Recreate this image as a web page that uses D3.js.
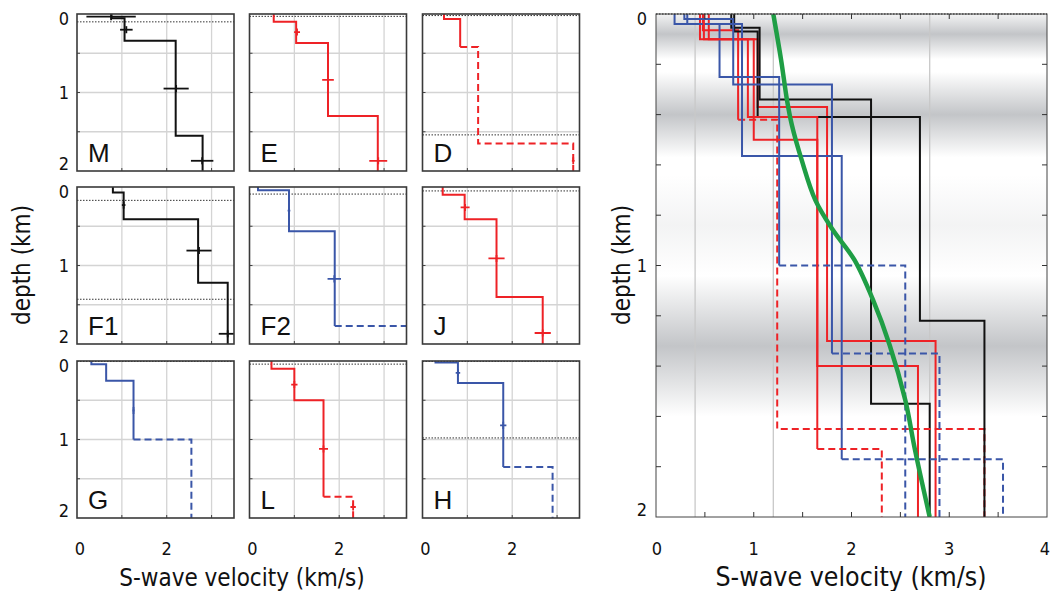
<!DOCTYPE html>
<html>
<head>
<meta charset="utf-8">
<script src="https://cdn.jsdelivr.net/npm/d3@7"></script>
<style>
  body { margin: 0; background: #fff; }
  svg text { font-family: "Liberation Sans Narrow", "DejaVu Sans Condensed", "Liberation Sans", sans-serif; fill: #111; }
  .letter { font-family: "Liberation Sans", Arial, sans-serif; }
</style>
</head>
<body>
<div id="chart"></div>
<script>
// panel names, in reading order
const panelNames = ["M", "E", "D", "F1", "F2", "J", "G", "L", "H"];
const panelColors = ["#111", "#ee2226", "#ee2226", "#111", "#3a56a8", "#ee2226", "#3a56a8", "#ee2226", "#3a56a8"];

// layer velocities (km/s) and layer tops (km)
const velM = [0.77, 1.06, 2.20, 2.80],  topM = [0, 0.055, 0.34, 1.55];
const velE = [0.54, 1.04, 1.75, 2.86],  topE = [0, 0.10, 0.37, 1.30];
const velD = [0.48, 0.84, 1.24, 3.36],  topD = [0, 0.065, 0.42, 1.65];
const velF1 = [0.80, 1.04, 2.70, 3.36], topF1 = [0, 0.07, 0.41, 1.22];
const velF2 = [0.19, 0.88, 1.90, 3.55], topF2 = [0, 0.04, 0.565, 1.77];
const velJ = [0.45, 0.94, 1.65, 2.68],  topJ = [0, 0.10, 0.41, 1.40];
const velG = [0.32, 0.65, 1.26, 2.55],  topG = [0, 0.04, 0.25, 1.00];
const velL = [0.49, 1.00, 1.65, 2.31],  topL = [0, 0.10, 0.50, 1.73];
const velH = [0.29, 0.79, 1.80, 2.90],  topH = [0, 0.02, 0.28, 1.35];
// how many layers are drawn solid (rest dashed)
const solidCount = [4, 4, 2, 4, 3, 4, 3, 3, 3];

// error crosses: [depth, velocity, half width]
const errM = [[0.034, 0.76, 0.55], [0.20, 1.10, 0.14], [0.95, 2.21, 0.28], [1.87, 2.79, 0.25]];
const errE = [[0.23, 1.06, 0.066], [0.84, 1.75, 0.13], [1.87, 2.87, 0.20]];
const errD = [[1.87, 3.36, 0.03]];
const errF1 = [[0.23, 1.04, 0.04], [0.81, 2.72, 0.28], [1.87, 3.36, 0.20]];
const errF2 = [[0.30, 0.88, 0.03], [1.17, 1.89, 0.15]];
const errJ = [[0.26, 0.95, 0.10], [0.91, 1.65, 0.18], [1.86, 2.68, 0.18]];
const errG = [[0.63, 1.26, 0.02]];
const errL = [[0.30, 1.00, 0.07], [1.12, 1.65, 0.10], [1.86, 2.31, 0.06]];
const errH = [[0.15, 0.79, 0.05], [0.82, 1.80, 0.07]];

// dotted reference depths (km)
const dotM = [0.10], dotE = [0.03], dotD = [0.02, 1.54];
const dotF1 = [0.17, 1.43], dotF2 = [0.09], dotJ = [0.05];
const dotG = [0.005], dotL = [0.04], dotH = [0.005, 0.98];

// smooth reference model (green): [velocity, depth]
const greenCurve = [[1.20, 0], [1.28, 0.183], [1.34, 0.342], [1.39, 0.441], [1.49, 0.58],
  [1.63, 0.74], [1.81, 0.859], [2.03, 0.978], [2.22, 1.137], [2.39, 1.316], [2.55, 1.535],
  [2.65, 1.734], [2.80, 2.0]];
// grey reference velocities in the big panel
const refVel = [0.4, 1.2, 2.8];
// shaded depth bands: [centre, half width, strength]
const bands = [[0.08, 0.10, 1], [0.40, 0.17, 1], [0.84, 0.20, 0.2], [1.32, 0.28, 1]];

const smallTicksX = [0, 2];
const bigTicksX = [0, 1, 2, 3, 4];
const depthTicks = [0, 1, 2];

const profiles = [
  {v: velM, t: topM, e: errM, d: dotM}, {v: velE, t: topE, e: errE, d: dotE}, {v: velD, t: topD, e: errD, d: dotD},
  {v: velF1, t: topF1, e: errF1, d: dotF1}, {v: velF2, t: topF2, e: errF2, d: dotF2}, {v: velJ, t: topJ, e: errJ, d: dotJ},
  {v: velG, t: topG, e: errG, d: dotG}, {v: velL, t: topL, e: errL, d: dotL}, {v: velH, t: topH, e: errH, d: dotH}
];

const W = 1053, H = 591;
const colX = [77, 249.5, 422.5], rowY = [14, 187, 361], pw = 157, ph = 157;

const svg = d3.select("#chart").append("svg").attr("width", W).attr("height", H);
const defs = svg.append("defs");

// step profile -> [solid points, dashed points]
function stepPoints(v, t, nSolid) {
  const pts = [];
  for (let i = 0; i < v.length; i++) {
    const bottom = i < v.length - 1 ? t[i + 1] : 2;
    pts.push([v[i], t[i]], [v[i], bottom]);
  }
  const cut = nSolid * 2;
  return [pts.slice(0, cut), pts.slice(cut - 1)];
}

function drawProfile(g, x, y, p, color, nSolid, lw, withErr) {
  const line = d3.line().x(d => x(d[0])).y(d => y(d[1]));
  const [solid, dashed] = stepPoints(p.v, p.t, nSolid);
  g.append("path").attr("d", line(solid)).attr("fill", "none")
    .attr("stroke", color).attr("stroke-width", lw);
  if (dashed.length > 1) {
    g.append("path").attr("d", line(dashed)).attr("fill", "none")
      .attr("stroke", color).attr("stroke-width", lw).attr("stroke-dasharray", "7,4");
  }
  if (withErr) {
    p.e.forEach(e => {
      g.append("line").attr("x1", x(e[1] - e[2])).attr("x2", x(e[1] + e[2]))
        .attr("y1", y(e[0])).attr("y2", y(e[0])).attr("stroke", color).attr("stroke-width", 1.8);
      g.append("line").attr("x1", x(e[1])).attr("x2", x(e[1]))
        .attr("y1", y(e[0] - 0.045)).attr("y2", y(e[0] + 0.045)).attr("stroke", color).attr("stroke-width", 1.8);
    });
  }
}

// ---- small panels ----
profiles.forEach((p, i) => {
  const c = i % 3, r = Math.floor(i / 3);
  const x = d3.scaleLinear().domain([0, 3.5]).range([colX[c], colX[c] + pw]);
  const y = d3.scaleLinear().domain([0, 2]).range([rowY[r], rowY[r] + ph]);
  const g = svg.append("g");

  g.append("clipPath").attr("id", "clip" + i).append("rect")
    .attr("x", colX[c]).attr("y", rowY[r]).attr("width", pw).attr("height", ph);

  // grid
  [1, 2, 3].forEach(v => g.append("line").attr("x1", x(v)).attr("x2", x(v))
    .attr("y1", y(0)).attr("y2", y(2)).attr("stroke", "#d4d4d4").attr("stroke-width", 1.3));
  [0.5, 1, 1.5].forEach(d => g.append("line").attr("x1", x(0)).attr("x2", x(3.5))
    .attr("y1", y(d)).attr("y2", y(d)).attr("stroke", "#d4d4d4").attr("stroke-width", 1.3));

  // small ticks
  [1, 2, 3].forEach(v => {
    g.append("line").attr("x1", x(v)).attr("x2", x(v)).attr("y1", y(2)).attr("y2", y(2) - 3).attr("stroke", "#444");
  });
  [0.5, 1, 1.5].forEach(d => {
    g.append("line").attr("x1", x(0)).attr("x2", x(0) + 3).attr("y1", y(d)).attr("y2", y(d)).attr("stroke", "#444");
  });

  // dotted depth markers
  p.d.forEach(d => g.append("line").attr("x1", x(0)).attr("x2", x(3.5))
    .attr("y1", y(d)).attr("y2", y(d)).attr("stroke", "#333").attr("stroke-width", 1)
    .attr("stroke-dasharray", "1.5,1.5"));

  const pg = g.append("g").attr("clip-path", "url(#clip" + i + ")");
  drawProfile(pg, x, y, p, panelColors[i], solidCount[i], 2, true);

  g.append("rect").attr("x", colX[c]).attr("y", rowY[r]).attr("width", pw).attr("height", ph)
    .attr("fill", "none").attr("stroke", "#3a3a3a").attr("stroke-width", 1.6);

  g.append("text").attr("class", "letter").attr("x", colX[c] + 11).attr("y", rowY[r] + ph - 9)
    .attr("font-size", 26).text(panelNames[i]);

  if (c === 0) {
    depthTicks.forEach(d => g.append("text").attr("x", colX[0] - 8)
      .attr("y", y(d) + (d === 0 ? 11 : d === 2 ? -1 : 6)).attr("text-anchor", "end")
      .attr("font-size", 18).text(d));
  }
  if (r === 2) {
    smallTicksX.forEach(v => g.append("text").attr("x", x(v) + (v === 0 ? 3 : 0)).attr("y", 555)
      .attr("text-anchor", "middle").attr("font-size", 18).text(v));
  }
});

svg.append("text").attr("transform", "translate(30,265) rotate(-90)").attr("text-anchor", "middle")
  .attr("font-size", 24).text("depth (km)");
svg.append("text").attr("x", 242).attr("y", 586).attr("text-anchor", "middle")
  .attr("font-size", 24).text("S-wave velocity (km/s)");

// ---- big panel ----
const bx = d3.scaleLinear().domain([0, 4]).range([656, 1047]);
const by = d3.scaleLinear().domain([0, 2]).range([14, 517]);
const big = svg.append("g");

big.append("clipPath").attr("id", "bigclip").append("rect")
  .attr("x", bx(0)).attr("y", by(0)).attr("width", bx(4) - bx(0)).attr("height", by(2) - by(0));

bands.forEach((b, i) => {
  const gr = defs.append("linearGradient").attr("id", "band" + i).attr("x1", 0).attr("x2", 0).attr("y1", 0).attr("y2", 1);
  gr.append("stop").attr("offset", "0%").attr("stop-color", "#c3c5c8").attr("stop-opacity", 0);
  gr.append("stop").attr("offset", "50%").attr("stop-color", "#c3c5c8").attr("stop-opacity", b[2]);
  gr.append("stop").attr("offset", "100%").attr("stop-color", "#c3c5c8").attr("stop-opacity", 0);
  big.append("rect").attr("x", bx(0)).attr("width", bx(4) - bx(0))
    .attr("y", by(b[0] - b[1])).attr("height", by(b[0] + b[1]) - by(b[0] - b[1]))
    .attr("fill", "url(#band" + i + ")").attr("clip-path", "url(#bigclip)");
});

refVel.forEach(v => big.append("line").attr("x1", bx(v)).attr("x2", bx(v)).attr("y1", by(0)).attr("y2", by(2))
  .attr("stroke", "#c8c8c8").attr("stroke-width", 1.3));

const profG = big.append("g").attr("clip-path", "url(#bigclip)");
profiles.forEach((p, i) => drawProfile(profG, bx, by, p, panelColors[i], solidCount[i], 2, false));

profG.append("path").datum(greenCurve)
  .attr("d", d3.line().x(d => bx(d[0])).y(d => by(d[1])).curve(d3.curveCatmullRom))
  .attr("fill", "none").attr("stroke", "#1f9e45").attr("stroke-width", 4.5);

// frame and ticks
big.append("rect").attr("x", bx(0)).attr("y", by(0)).attr("width", bx(4) - bx(0)).attr("height", by(2) - by(0))
  .attr("fill", "none").attr("stroke", "#444").attr("stroke-width", 1);
big.append("line").attr("x1", bx(0)).attr("x2", bx(4)).attr("y1", by(0)).attr("y2", by(0))
  .attr("stroke", "#222").attr("stroke-width", 1.2).attr("stroke-dasharray", "1.5,1.5");
d3.range(0.5, 4, 0.5).forEach(v => {
  big.append("line").attr("x1", bx(v)).attr("x2", bx(v)).attr("y1", by(2)).attr("y2", by(2) - 5).attr("stroke", "#333");
  big.append("line").attr("x1", bx(v)).attr("x2", bx(v)).attr("y1", by(0)).attr("y2", by(0) + 5).attr("stroke", "#333");
});
d3.range(0.2, 2, 0.2).forEach(d => {
  big.append("line").attr("x1", bx(0)).attr("x2", bx(0) + 5).attr("y1", by(d)).attr("y2", by(d)).attr("stroke", "#333");
  big.append("line").attr("x1", bx(4)).attr("x2", bx(4) - 5).attr("y1", by(d)).attr("y2", by(d)).attr("stroke", "#333");
});

bigTicksX.forEach(v => big.append("text").attr("x", bx(v) + (v === 0 ? 1 : v === 4 ? -2 : 0)).attr("y", 555)
  .attr("text-anchor", "middle").attr("font-size", 18).text(v));
depthTicks.forEach(d => big.append("text").attr("x", bx(0) - 9)
  .attr("y", by(d) + (d === 0 ? 11 : d === 2 ? -1 : 6)).attr("text-anchor", "end")
  .attr("font-size", 18).text(d));

svg.append("text").attr("transform", "translate(630,265) rotate(-90)").attr("text-anchor", "middle")
  .attr("font-size", 24).text("depth (km)");
svg.append("text").attr("x", 851).attr("y", 586).attr("text-anchor", "middle")
  .attr("font-size", 26.5).text("S-wave velocity (km/s)");
</script>
</body>
</html>
